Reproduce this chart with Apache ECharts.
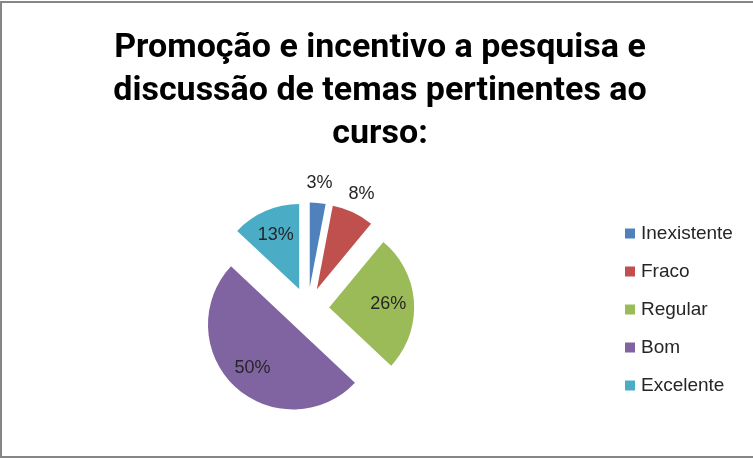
<!DOCTYPE html>
<html>
<head>
<meta charset="utf-8">
<script src="https://cdn.jsdelivr.net/npm/echarts@6/dist/echarts.min.js"></script>
<style>
html,body{margin:0;padding:0;background:#fff;}
#chart{width:753px;height:458px;}
</style>
</head>
<body>
<div id="chart"></div>
<script>
const titleText = 'Promoção e incentivo a pesquisa e\ndiscussão de temas pertinentes ao\ncurso:';
const categories = ['Inexistente', 'Fraco', 'Regular', 'Bom', 'Excelente'];
const values = [3, 8, 26, 50, 13];
const colors = ['#4F81BD', '#C0504D', '#9BBB59', '#8064A2', '#4BACC6'];
const outsideLabels = ['Inexistente', 'Fraco'];

const chart = echarts.init(document.getElementById('chart'), null, {renderer: 'canvas'});

const center = [307.7, 308.8];
const R = 85;
const explode = 21.5;
const labelFont = {fontFamily: 'Liberation Sans', fontSize: 18, color: '#262626'};

function pieData(mode) {
  return categories.map((c, i) => {
    const isOut = outsideLabels.indexOf(c) >= 0;
    let showLabel = false;
    if (mode === 'in') showLabel = !isOut;
    if (mode === 'out') showLabel = isOut;
    const color = mode === 'main' ? colors[i] : 'rgba(0,0,0,0)';
    return {
      name: c,
      value: values[i],
      selected: true,
      itemStyle: {color: color},
      label: {show: showLabel},
      select: {itemStyle: {color: color, borderWidth: 0}, label: {show: showLabel}}
    };
  });
}

function pieSeries(mode, radius) {
  return {
    type: 'pie',
    center: center,
    radius: radius,
    startAngle: 90,
    clockwise: true,
    selectedMode: 'multiple',
    selectedOffset: explode,
    avoidLabelOverlap: false,
    silent: mode !== 'main',
    animation: false,
    emphasis: {disabled: true, scale: false},
    itemStyle: {borderWidth: 0},
    label: Object.assign({position: 'inside', formatter: '{d}%'}, labelFont),
    labelLine: {show: false},
    data: pieData(mode)
  };
}

const option = {
  animation: false,
  color: colors,
  graphic: [{
    type: 'rect',
    shape: {x: 1, y: 2, width: 820, height: 455},
    style: {fill: 'none', stroke: '#868686', lineWidth: 2},
    silent: true
  }],
  title: {
    text: titleText,
    left: 380,
    textAlign: 'center',
    top: 27,
    padding: 0,
    textStyle: {
      fontFamily: 'Roboto',
      fontWeight: 'bold',
      fontSize: 34,
      lineHeight: 43,
      color: '#000'
    }
  },
  legend: {
    orient: 'vertical',
    left: 625,
    top: 224,
    padding: 0,
    itemWidth: 10,
    itemHeight: 10,
    itemGap: 19,
    icon: 'rect',
    data: categories,
    selectedMode: false,
    textStyle: {fontFamily: 'Liberation Sans', fontSize: 19, lineHeight: 18, color: '#262626', padding: [0, 0, 0, 1]}
  },
  series: [
    pieSeries('main', R),
    pieSeries('in', R * 1.32),
    pieSeries('out', R * 2.4)
  ]
};
chart.setOption(option);
</script>
</body>
</html>
